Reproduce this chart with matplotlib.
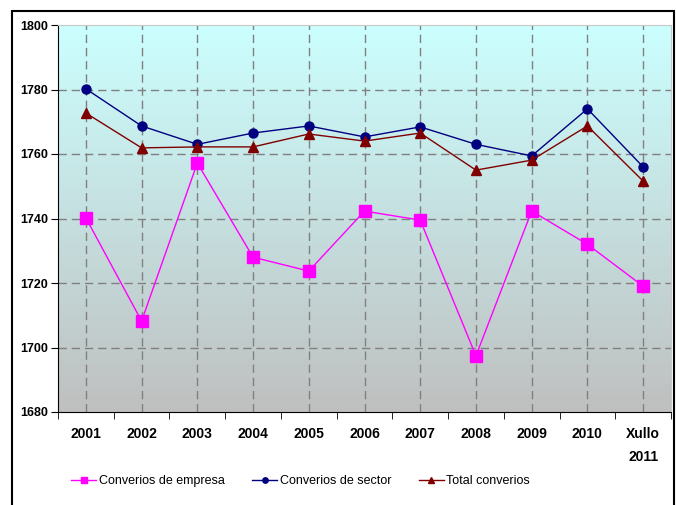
import matplotlib.pyplot as plt
import numpy as np
from matplotlib.patches import Rectangle

plt.rcParams['font.family'] = ['Liberation Sans', 'DejaVu Sans']

# --- data ---
years = ["2001", "2002", "2003", "2004", "2005", "2006", "2007", "2008", "2009", "2010", "Xullo\n2011"]
empresa = [1740.2, 1708.2, 1757.2, 1728.0, 1723.7, 1742.3, 1739.5, 1697.4, 1742.3, 1732.0, 1719.0]
sector = [1780.2, 1768.7, 1763.0, 1766.5, 1768.7, 1765.3, 1768.4, 1763.0, 1759.4, 1774.0, 1756.0]
total = [1772.7, 1761.9, 1762.2, 1762.2, 1766.2, 1764.0, 1766.5, 1755.0, 1758.1, 1768.7, 1751.6]
yticks = [1680, 1700, 1720, 1740, 1760, 1780, 1800]

fig = plt.figure(figsize=(6.76, 5.05), dpi=100, facecolor='white')
ax = fig.add_axes([58/676, 1-412/505, 613/676, 387/505])

# gradient background cyan -> gray
grad = np.linspace(0, 1, 256).reshape(-1, 1)
top = np.array([0.80, 1.0, 1.0])
bot = np.array([0.75, 0.75, 0.75])
img = top * (1 - grad[:, :, None]) + bot * grad[:, :, None]
ax.imshow(img, extent=[0, 1, 0, 1], transform=ax.transAxes, aspect='auto', zorder=0)

x = np.arange(len(years))
ax.plot(x, empresa, color='#FF00FF', lw=1, marker='s', ms=8, label='Converios de empresa', zorder=3)
ax.plot(x, sector, color='#000080', lw=1, marker='o', ms=6.5, label='Converios de sector', zorder=3)
ax.plot(x, total, color='#800000', lw=1, marker='^', ms=7.5, label='Total converios', zorder=3)

ax.set_xlim(-0.5, len(years) - 0.5)
ax.set_ylim(1680, 1800)
ax.set_yticks(yticks)
ax.set_yticklabels([str(t) for t in yticks], fontsize=9, fontweight='bold')
ax.set_xticks(x)
ax.set_xticklabels(years, fontsize=10, fontweight='bold', linespacing=1.8, va='top')
ax.set_xticks(np.arange(-0.5, len(years)), minor=True)
ax.tick_params(axis='x', which='major', length=0, pad=11)
ax.tick_params(axis='x', which='minor', length=5, direction='out')
ax.tick_params(axis='y', length=5, direction='out', pad=2)

for yv in yticks[1:-1]:
    ax.axhline(yv, color='#808080', lw=1, ls=(0, (6, 3.5)), zorder=1)
for xv in x:
    ax.axvline(xv, color='#808080', lw=1, ls=(0, (6, 3.5)), zorder=1)

for s in ['top', 'right']:
    ax.spines[s].set_color('#C8C8C8')
for s in ['left', 'bottom']:
    ax.spines[s].set_color('black')

fig.legend(loc='center left', bbox_to_anchor=(60/676, 1-481/505), ncol=3, frameon=False,
           fontsize=9, handlelength=2.0, columnspacing=2.2, handletextpad=0.2, markerscale=0.6)

# outer border
fig.patches.append(Rectangle((12/676, -0.01), 662/676, 1-11/505+0.01, transform=fig.transFigure,
                             fill=False, edgecolor='black', lw=1.5))

plt.savefig('out.png', dpi=100)
